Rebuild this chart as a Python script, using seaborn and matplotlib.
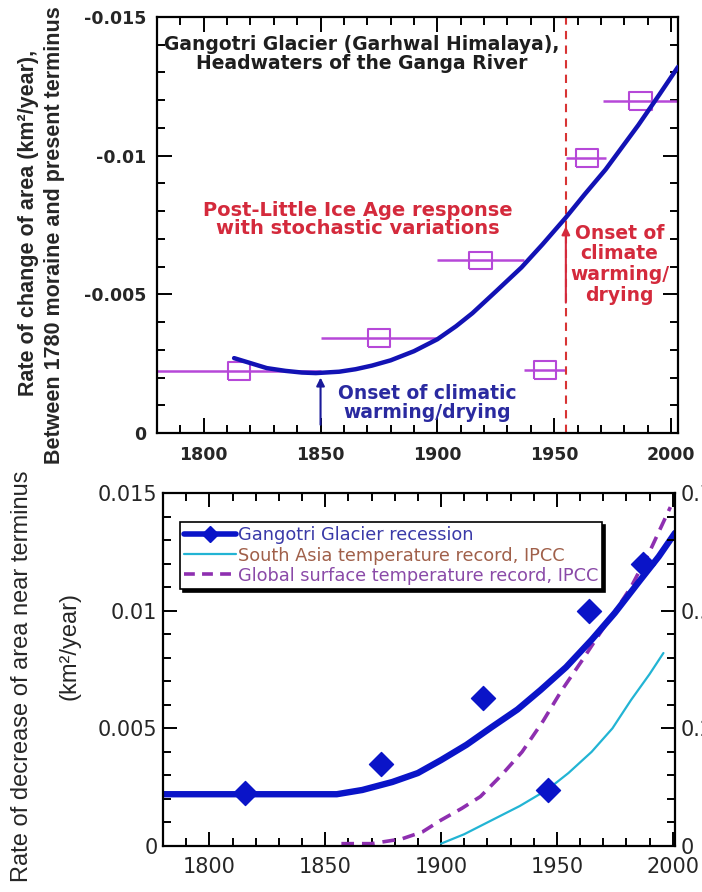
import matplotlib
matplotlib.use("Agg")
import matplotlib.pyplot as plt
from matplotlib.lines import Line2D
from matplotlib.ticker import MultipleLocator
import seaborn as sns

# --- top panel: rate of change of area (negative = loss) ---
box_years = [1815, 1875, 1918.5, 1946, 1964, 1987]
box_rates = [-0.00223, -0.00342, -0.00622, -0.00227, -0.00993, -0.01198]
span_start = [1780, 1850, 1900, 1937, 1955, 1971]
span_end = [1850, 1900, 1937, 1955, 1972, 2003]

fit_years = [1813, 1820, 1827, 1835, 1842, 1848, 1858, 1865, 1872, 1880, 1890,
             1900, 1908, 1915, 1925, 1936, 1945, 1955, 1963, 1972, 1979, 1986,
             1995, 2003]
fit_rates = [-0.0027, -0.00252, -0.00234, -0.00224, -0.00218, -0.00216, -0.00221,
             -0.0023, -0.00243, -0.00262, -0.00295, -0.00338, -0.00385, -0.00432,
             -0.0051, -0.00597, -0.0068, -0.00777, -0.0086, -0.0095, -0.0103,
             -0.0111, -0.0122, -0.0132]

# --- bottom panel: rate of decrease near terminus ---
pt_years = [1815.5, 1874, 1918, 1946, 1964, 1987]
pt_rates = [0.00225, 0.0035, 0.0063, 0.0024, 0.0100, 0.0120]

gl_years = [1780, 1855, 1866, 1879, 1890, 1900, 1911, 1922, 1933, 1943, 1954,
            1965, 1975, 1986, 1994, 2001]
gl_rates = [0.0022, 0.0022, 0.00238, 0.00272, 0.0031, 0.00365, 0.0043, 0.00506,
            0.0058, 0.00663, 0.0076, 0.00876, 0.0099, 0.0113, 0.0123, 0.0133]

sa_years = [1900, 1910, 1922, 1934, 1946, 1955, 1965, 1974, 1982, 1990, 1996]
sa_temp = [0.0001, 0.0005, 0.0011, 0.0017, 0.0024, 0.0031, 0.0040, 0.0050,
           0.0062, 0.0073, 0.0082]

gs_years = [1857, 1870, 1883, 1892, 1900, 1909, 1917, 1926, 1935, 1944, 1952,
            1961, 1969, 1976, 1982, 1990, 1999]
gs_temp = [0.0001, 0.0001, 0.0003, 0.0006, 0.0011, 0.0016, 0.0021, 0.0030,
           0.0040, 0.0053, 0.0066, 0.0079, 0.0091, 0.0101, 0.0110, 0.0125, 0.0144]

legend_labels = ["Gangotri Glacier recession",
                 "South Asia temperature record, IPCC",
                 "Global surface temperature record, IPCC"]

x_ticks = [1800, 1850, 1900, 1950, 2000]

sns.set_style("ticks")
plt.rcParams['font.family'] = ['DejaVu Sans']

W, H = 702, 892
fig = plt.figure(figsize=(W / 100, H / 100), dpi=100)
fig.patch.set_facecolor('white')


def box(x0, y0, x1, y1):
    return [x0 / W, 1 - y1 / H, (x1 - x0) / W, (y1 - y0) / H]


def frame(ax, maj, mnr):
    for s in ax.spines.values():
        s.set_visible(True)
        s.set_linewidth(1.6)
        s.set_color('black')
    ax.xaxis.set_minor_locator(MultipleLocator(10))
    ax.yaxis.set_minor_locator(MultipleLocator(0.001))
    ax.tick_params(which='both', direction='in', top=True, right=True,
                   width=1.4, color='black')
    ax.tick_params(which='major', length=maj)
    ax.tick_params(which='minor', length=mnr)


RED = '#d42a3c'
PURP = '#b648d8'
rect = [(-1.25, -1), (1.25, -1), (1.25, 1), (-1.25, 1), (-1.25, -1)]

# ---------------- top panel ----------------
ax1 = fig.add_axes(box(157, 17, 678, 433))
ax1.hlines(box_rates, span_start, span_end, color=PURP, lw=1.8)
sns.scatterplot(x=box_years, y=box_rates, ax=ax1, marker=rect, s=260,
                fc='none', ec=PURP, linewidth=1.5, zorder=3)
sns.lineplot(x=fit_years, y=fit_rates, ax=ax1, color='#1212b4', lw=3.2,
             sort=False, zorder=4)
ax1.axvline(1955, color='#d83434', lw=1.5, ls=(0, (4, 3)))

ax1.set_xlim(1780, 2003)
ax1.set_ylim(0, -0.015)
frame(ax1, 11, 6)
ax1.set_xticks(x_ticks, [str(t) for t in x_ticks], fontsize=12.5,
               fontweight='bold')
ax1.set_yticks([0, -0.005, -0.01, -0.015], ['0', '-0.005', '-0.01', '-0.015'],
               fontsize=12.5, fontweight='bold')
ax1.tick_params(axis='x', pad=9)
ax1.tick_params(axis='y', pad=8)
ax1.set_xlabel('')
ax1.set_ylabel('')

ax1.text(1867.5, -0.01365,
         "Gangotri Glacier (Garhwal Himalaya),\nHeadwaters of the Ganga River",
         ha='center', va='center', fontsize=13.5, fontweight='bold',
         color='#1e1e1e', linespacing=1.0)
ax1.text(1866, -0.0077,
         "Post-Little Ice Age response\nwith stochastic variations",
         ha='center', va='center', fontsize=14, fontweight='bold', color=RED,
         linespacing=0.95)
ax1.text(1895.5, -0.00108, "Onset of climatic\nwarming/drying",
         ha='center', va='center', fontsize=13.5, fontweight='bold',
         color='#2a2aa0', linespacing=1.0)
ax1.text(1978, -0.00608, "Onset of\nclimate\nwarming/\ndrying",
         ha='center', va='center', fontsize=13.5, fontweight='bold', color=RED,
         linespacing=1.12)
ax1.annotate('', xy=(1955, -0.00745), xytext=(1955, -0.0047),
             arrowprops=dict(arrowstyle='-|>', color=RED, lw=1.5,
                             mutation_scale=12, shrinkA=0, shrinkB=0))
ax1.annotate('', xy=(1850, -0.0020), xytext=(1850, -0.0003),
             arrowprops=dict(arrowstyle='-|>', color='#1a1a9a', lw=1.5,
                             mutation_scale=12, shrinkA=0, shrinkB=0))

# ---------------- bottom panel ----------------
ax2 = fig.add_axes(box(163, 493, 675, 846))
sns.lineplot(x=gs_years, y=gs_temp, ax=ax2, color='#8e2fb0', lw=2.6,
             ls=(0, (3.5, 2.2)), sort=False)
sns.lineplot(x=sa_years, y=sa_temp, ax=ax2, color='#22b4d4', lw=1.6, sort=False)
sns.lineplot(x=gl_years, y=gl_rates, ax=ax2, color='#0a14c8', lw=4.6, sort=False)
sns.scatterplot(x=pt_years, y=pt_rates, ax=ax2, marker='D', s=150,
                color='#0a14c8', ec='#0a14c8', zorder=5)

ax2.set_xlim(1780, 2001)
ax2.set_ylim(0, 0.015)
frame(ax2, 10, 6)
ax2.tick_params(right=False, which='both')
ax2.set_xticks(x_ticks, [str(t) for t in x_ticks], fontsize=15)
ax2.set_yticks([0, 0.005, 0.01, 0.015], ['0', '0.005', '0.01', '0.015'],
               fontsize=15)
ax2.tick_params(axis='x', pad=8)
ax2.tick_params(axis='y', pad=4)
ax2.set_xlabel('')
ax2.set_ylabel('')

ax2r = ax2.twinx()
ax2r.set_ylim(0, 0.75)
ax2r.set_yticks([0, 0.25, 0.5, 0.75], ['0', '0.25', '0.5', '0.75'], fontsize=15)
ax2r.yaxis.set_minor_locator(MultipleLocator(0.05))
ax2r.tick_params(which='both', direction='in', right=True, left=False,
                 width=1.4, color='black', pad=4)
ax2r.tick_params(which='major', length=10)
ax2r.tick_params(which='minor', length=6)
for s in ax2r.spines.values():
    s.set_visible(False)

handles = [Line2D([], [], color='#0a14c8', lw=4, marker='D', markersize=8),
           Line2D([], [], color='#22b4d4', lw=1.6),
           Line2D([], [], color='#8e2fb0', lw=2.6, ls=(0, (3, 2)))]
leg = ax2.legend(handles, legend_labels, loc='upper left',
                 bbox_to_anchor=(0.033, 0.918), fontsize=12.8, frameon=True,
                 fancybox=False, shadow={'color': 'black', 'alpha': 1},
                 edgecolor='black', framealpha=1, handlelength=2.9,
                 handletextpad=0.1, borderpad=0.25, labelspacing=0.12,
                 borderaxespad=0)
leg.get_frame().set_linewidth(1.2)
for t, c in zip(leg.get_texts(), ['#3a3aa8', '#a0604a', '#8a4aa8']):
    t.set_color(c)

# ---------------- axis titles ----------------
fig.text(29 / W, 1 - 223 / H, "Rate of change of area (km²/year),",
         rotation=90, ha='center', va='center', fontsize=15.5,
         fontweight='bold', family=['Liberation Sans', 'DejaVu Sans'])
fig.text(55 / W, 1 - 235 / H, "Between 1780 moraine and present terminus",
         rotation=90, ha='center', va='center', fontsize=15.5,
         fontweight='bold', family=['Liberation Sans', 'DejaVu Sans'])
fig.text(22 / W, 1 - 676 / H, "Rate of decrease of area near terminus",
         rotation=90, ha='center', va='center', fontsize=17,
         family=['Liberation Sans', 'DejaVu Sans'])
fig.text(70 / W, 1 - 646 / H, "(km²/year)",
         rotation=90, ha='center', va='center', fontsize=17,
         family=['Liberation Sans', 'DejaVu Sans'])

plt.savefig("out.png", dpi=100)
